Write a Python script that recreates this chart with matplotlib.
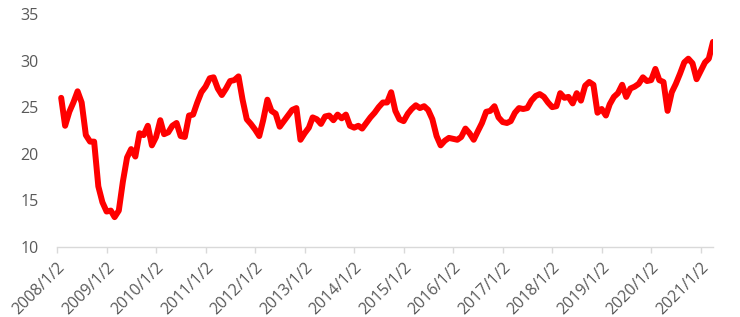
import matplotlib
matplotlib.use("Agg")
import matplotlib.pyplot as plt
import matplotlib.dates as mdates
import numpy as np
import pandas as pd

# monthly values, 2008-01 .. 2021-03
values = [
    26.0, 23.0, 24.5, 25.5, 26.7, 25.5, 22.0, 21.3, 21.3, 16.5, 14.8, 13.8,
    13.9, 13.2, 13.9, 17.0, 19.6, 20.5, 19.7, 22.2, 22.0, 23.0, 20.9, 21.8,
    23.6, 22.1, 22.3, 23.0, 23.3, 21.9, 21.8, 24.1, 24.2, 25.5, 26.6, 27.2,
    28.1, 28.2, 27.0, 26.3, 27.0, 27.8, 27.9, 28.3, 25.8, 23.7, 23.2, 22.6,
    21.9, 23.6, 25.8, 24.6, 24.3, 22.9, 23.5, 24.1, 24.7, 24.9, 21.5, 22.2,
    22.8, 23.9, 23.7, 23.2, 24.0, 24.1, 23.6, 24.2, 23.8, 24.2, 23.0, 22.8,
    23.0, 22.7, 23.3, 23.9, 24.4, 25.0, 25.5, 25.5, 26.6, 24.6, 23.7, 23.5,
    24.3, 24.8, 25.2, 24.9, 25.1, 24.7, 23.7, 21.9, 20.9, 21.4, 21.7, 21.6,
    21.5, 21.8, 22.7, 22.2, 21.5, 22.4, 23.3, 24.5, 24.6, 25.1, 23.9, 23.4,
    23.3, 23.5, 24.4, 24.9, 24.8, 24.9, 25.7, 26.2, 26.4, 26.1, 25.5, 25.0,
    25.1, 26.5, 26.0, 26.1, 25.4, 26.5, 25.7, 27.3, 27.7, 27.4, 24.4, 24.8,
    24.1, 25.3, 26.1, 26.5, 27.4, 26.1, 27.0, 27.2, 27.5, 28.2, 27.8, 27.9,
    29.1, 27.9, 27.7, 24.6, 26.6, 27.5, 28.6, 29.8, 30.2, 29.7, 28.0, 28.9,
    29.8, 30.2, 32.0,
]
dates = pd.date_range("2008-01-02", periods=len(values), freq="MS") + pd.Timedelta(days=1)
tick_dates = pd.to_datetime([f"{y}-01-02" for y in range(2008, 2022)])
y_ticks = [10, 15, 20, 25, 30, 35]

fig = plt.figure(figsize=(7.4, 3.17), dpi=100)
ax = fig.add_axes([0.077, 0.221, 0.8865, 0.735])

ax.plot(dates, values, color="#ff0000", lw=4.3, solid_joinstyle="round", solid_capstyle="round")

ax.set_xlim(dates[0], dates[-1])
ax.set_ylim(10, 35)
ax.set_yticks(y_ticks)
ax.set_xticks(tick_dates)
ax.set_xticklabels([f"{d.year}/{d.month}/{d.day}" for d in tick_dates],
                   rotation=45, ha="right", rotation_mode="anchor")

for s in ["top", "right", "left"]:
    ax.spines[s].set_visible(False)
ax.spines["bottom"].set_color("#d9d9d9")
ax.spines["bottom"].set_linewidth(1.0)
ax.tick_params(axis="y", length=0, pad=13, labelsize=11.5, labelcolor="#595959")
ax.tick_params(axis="x", length=4, color="#d9d9d9", width=1.0, pad=5,
               labelsize=11.5, labelcolor="#595959")
for lab in ax.get_xticklabels() + ax.get_yticklabels():
    lab.set_family("Open Sans")

fig.savefig("out.png", dpi=100)
